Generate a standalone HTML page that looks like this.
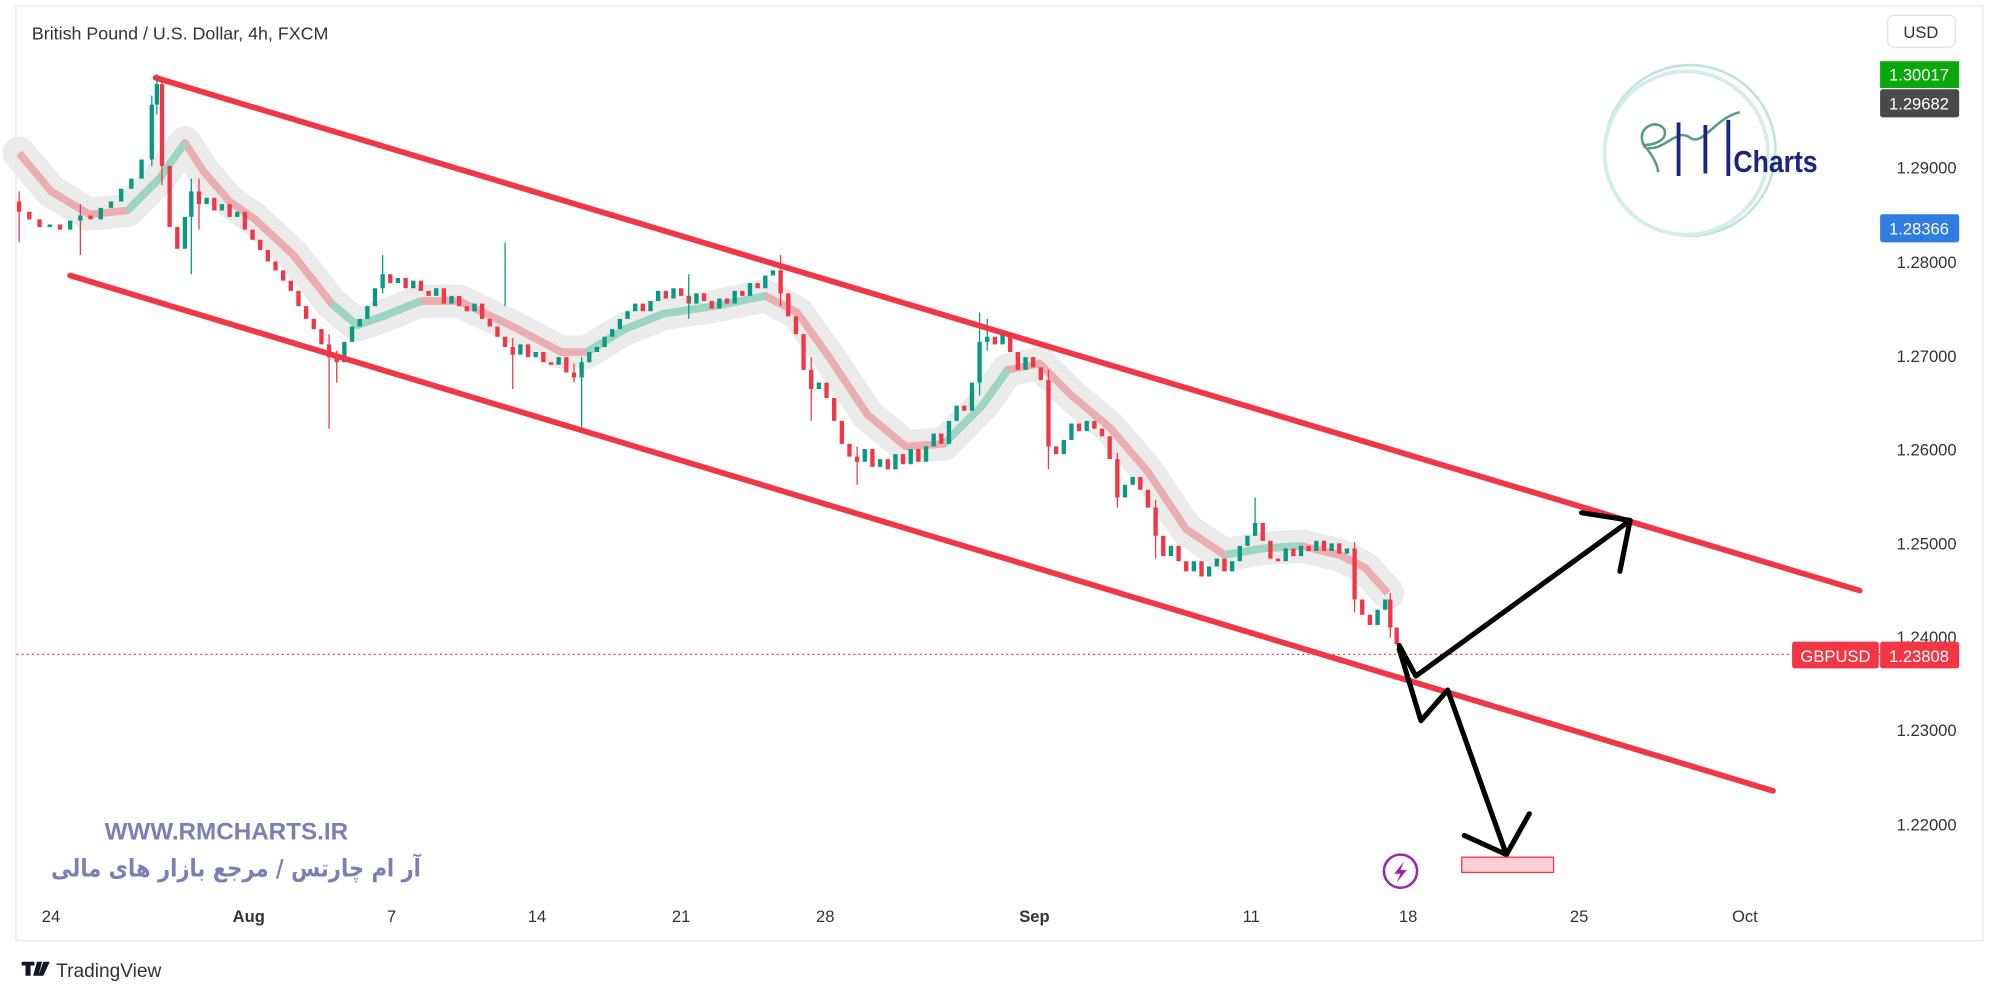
<!DOCTYPE html>
<html><head><meta charset="utf-8">
<style>
html,body{margin:0;padding:0;background:#fff;}
svg{display:block;}
text{font-family:"Liberation Sans","DejaVu Sans",sans-serif;}
</style></head>
<body>
<svg width="2000" height="1000" viewBox="0 0 1568 784" xmlns="http://www.w3.org/2000/svg">
<rect x="0" y="0" width="1568" height="784" fill="#fff"/>
<rect x="12.5" y="4.5" width="1542" height="733" fill="#fff" stroke="#eceef2" stroke-width="1.5"/>
<polyline fill="none" stroke="#ebebec" stroke-width="26" stroke-linejoin="round" stroke-linecap="round" points="15,120 40,150 70,168 100,165 125,140 145,112 160,135 180,158 200,172 230,200 260,238 280,255 300,248 330,236 360,236 400,255 440,276 460,276 490,258 520,246 560,240 600,232 625,245 650,280 680,325 710,350 740,348 770,318 790,290 815,285 840,310 870,335 900,370 930,415 960,435 990,430 1020,428 1050,435 1070,445 1088,465"/>
<polyline fill="none" stroke="#eaaeb0" stroke-width="6" stroke-linejoin="round" points="15,120 40,150 70,168 100,165 125,140 145,112 160,135 180,158 200,172 230,200 260,238 280,255 300,248 330,236 360,236 400,255 440,276 460,276 490,258 520,246 560,240 600,232 625,245 650,280 680,325 710,350 740,348 770,318 790,290 815,285 840,310 870,335 900,370 930,415 960,435 990,430 1020,428 1050,435 1070,445 1088,465"/>
<g fill="none" stroke="#9dd5c5" stroke-width="6" stroke-linejoin="round">
<polyline points="100,165 125,140 145,112"/>
<polyline points="260,238 280,255 300,248 330,236"/>
<polyline points="460,276 490,258 520,246 560,240 600,232"/>
<polyline points="740,348 770,318 790,290"/>
<polyline points="960,435 990,430 1020,428"/>
</g>
<path stroke="#f23645" stroke-width="3.4" fill="none" d="M15 158V166M23 166V172M31 172V178M47 176V180M71 169V172M127 66V130M133 130V178M139 178V195M156 150V160M168 155V165M180 160V170M192 166V180M198 180V188M204 188V196M210 196V205M216 205V212M222 212V220M228 220V228M234 228V240M240 240V250M246 250V258M252 258V270M258 270V280M264 280V284M306 215V222M318 218V226M330 220V228M336 228V232M348 226V238M360 232V240M366 240V244M378 238V250M384 250V256M390 256V264M396 264V272M402 272V278M414 270V280M426 276V284M432 284V286M444 280V292M450 292V296M504 238V244M522 228V234M534 226V232M540 232V238M552 230V236M558 236V242M570 234V238M582 228V232M594 222V226M612 212V230M618 230V248M624 248V262M630 262V290M636 290V305M648 300V312M654 312V330M660 330V348M666 348V358M672 358V362M684 352V366M696 360V368M708 356V364M720 352V362M738 340V348M756 318V322M780 264V270M792 262V276M798 276V290M810 280V288M816 288V298M822 298V350M828 350V356M846 332V338M858 330V336M864 336V342M870 342V360M876 360V390M894 374V384M900 384V398M906 398V420M912 420V436M924 428V440M930 440V448M942 440V452M960 438V448M990 410V424M996 424V438M1002 438V440M1014 430V436M1026 428V432M1038 424V432M1050 426V434M1062 430V470M1068 470V482M1074 482V490M1090 470V492M1095 492V505"/>
<path stroke="#f23645" stroke-width="1" fill="none" d="M15 150V190M63 160V200M127 60V145M156 140V180M258 262V336M264 275V300M402 265V305M450 285V300M612 200V240M636 280V330M672 350V380M822 290V368M876 355V398M906 392V438M1062 425V480M1090 465V500"/>
<path stroke="#089981" stroke-width="3.4" fill="none" d="M39 178V176M55 180V173M63 173V169M79 172V163M87 163V158M95 158V148M103 148V140M111 140V125M119 125V82M123 82V66M145 195V170M150 170V150M162 160V155M174 165V160M186 170V166M270 284V268M276 268V256M282 256V250M288 250V240M294 240V226M300 226V215M312 222V218M324 226V220M342 232V226M354 238V232M372 244V238M408 278V270M420 280V276M438 286V280M456 296V284M462 284V276M468 276V272M474 272V264M480 264V258M486 258V250M492 250V244M498 244V238M510 244V236M516 236V228M528 234V226M546 238V230M564 242V234M576 238V228M588 232V222M600 226V216M606 216V212M642 305V300M678 362V352M690 366V360M702 368V356M714 364V352M726 362V350M732 350V340M744 348V330M750 330V318M762 322V300M768 300V268M774 268V264M786 270V262M804 290V280M834 356V345M840 345V332M852 338V330M882 390V380M888 380V374M918 436V428M936 448V440M948 452V444M954 444V438M966 448V440M972 440V428M978 428V420M984 420V410M1008 440V430M1020 436V428M1032 432V424M1044 432V426M1056 434V430M1080 490V478M1086 478V470"/>
<path stroke="#089981" stroke-width="1" fill="none" d="M119 75V130M123 58V90M150 140V215M300 200V230M396 190V240M456 280V335M768 245V310M774 250V275M540 215V250M984 390V420"/>
<text x="25" y="31" font-size="14" fill="#333">British Pound / U.S. Dollar, 4h, FXCM</text>
<line x1="13" y1="513" x2="1474" y2="513" stroke="#f23645" stroke-width="1" stroke-dasharray="1.5,2.5"/>
<line x1="122" y1="61" x2="1458" y2="463" stroke="#f23645" stroke-width="4.5" stroke-linecap="round"/>
<line x1="55" y1="216" x2="1390" y2="620" stroke="#f23645" stroke-width="4.5" stroke-linecap="round"/>
<g stroke="#000" stroke-width="4" fill="none" stroke-linecap="round" stroke-linejoin="round">
<polyline points="1097,506 1110,530 1278,408"/>
<polyline points="1240,402 1278,408 1270,448"/>
<polyline points="1097,509 1114,565 1135,541 1181,670"/>
<polyline points="1148,655 1181,670 1199,638"/>
</g>
<rect x="1146" y="672" width="72" height="12" fill="#f9cfd3" stroke="#f23645" stroke-width="1"/>
<circle cx="1098" cy="683" r="13" fill="#fff" stroke="#9c27b0" stroke-width="2"/>
<path d="M1101,675 L1093,685 L1098,685 L1095,692 L1103,682 L1098,682 Z" fill="#9c27b0"/>
<g>
<circle cx="1325" cy="118" r="67" fill="none" stroke="#bfe3e0" stroke-width="2"/>
<circle cx="1322" cy="120" r="64" fill="none" stroke="#d5eeeb" stroke-width="3"/>
<path d="M1290,116 C1280,100 1300,92 1305,102 C1308,112 1290,115 1288,113 C1295,120 1300,130 1300,135" fill="none" stroke="#5b9a86" stroke-width="2"/>
<path d="M1292,116 C1305,118 1315,100 1325,108 C1335,115 1345,92 1364,88" fill="none" stroke="#5b9a86" stroke-width="2"/>
<g stroke="#1a237e" stroke-width="3"><line x1="1316" y1="96" x2="1316" y2="138"/><line x1="1337" y1="98" x2="1337" y2="136"/><line x1="1355" y1="94" x2="1355" y2="138"/></g>
<text x="1359" y="135" font-size="24" font-weight="bold" fill="#1a237e" textLength="66" lengthAdjust="spacingAndGlyphs">Charts</text>
</g>
<text x="82" y="658" font-size="19" font-weight="bold" fill="#7b7fb5">WWW.RMCHARTS.IR</text>
<text x="40" y="687" font-size="19" font-weight="bold" fill="#7b7fb5" textLength="290" lengthAdjust="spacingAndGlyphs" style="font-family:'DejaVu Sans',sans-serif">آر ام چارتس / مرجع بازار های مالی</text>
<rect x="1480" y="12" width="53" height="25" rx="5" fill="#fff" stroke="#e0e3eb"/>
<text x="1506" y="30" font-size="13" fill="#333" text-anchor="middle">USD</text>
<g font-size="13" fill="#333">
<text x="1487" y="136">1.29000</text>
<text x="1487" y="210">1.28000</text>
<text x="1487" y="284">1.27000</text>
<text x="1487" y="357">1.26000</text>
<text x="1487" y="431">1.25000</text>
<text x="1487" y="504">1.24000</text>
<text x="1487" y="577">1.23000</text>
<text x="1487" y="651">1.22000</text>
</g>
<rect x="1474" y="48" width="62" height="21" fill="#0ba80b"/><text x="1481" y="63" font-size="13" fill="#fff">1.30017</text>
<rect x="1474" y="70" width="62" height="22" rx="2" fill="#4a4a4a"/><text x="1481" y="86" font-size="13" fill="#fff">1.29682</text>
<rect x="1474" y="168" width="62" height="22" rx="2" fill="#2f7de1"/><text x="1481" y="184" font-size="13" fill="#fff">1.28366</text>
<rect x="1405" y="503" width="68" height="21" rx="2" fill="#f23645"/><text x="1439" y="519" font-size="13" fill="#fff" text-anchor="middle">GBPUSD</text>
<rect x="1474" y="503" width="62" height="21" rx="2" fill="#f23645"/><text x="1481" y="519" font-size="13" fill="#fff">1.23808</text>
<g font-size="13" fill="#333" text-anchor="middle">
<text x="40" y="723">24</text>
<text x="195" y="723" font-weight="bold">Aug</text>
<text x="307" y="723">7</text>
<text x="421" y="723">14</text>
<text x="534" y="723">21</text>
<text x="647" y="723">28</text>
<text x="811" y="723" font-weight="bold">Sep</text>
<text x="981" y="723">11</text>
<text x="1104" y="723">18</text>
<text x="1238" y="723">25</text>
<text x="1368" y="723">Oct</text>
</g>
<g fill="#131722">
<path d="M17,754 h10 v3 h-3 v8 h-4 v-8 h-3z M29,754 h4 l-3,11 h-4z M34,754 h5 l-5,11 h-4z"/>
</g>
<text x="44" y="766" font-size="15" fill="#333">TradingView</text>
</svg>
</body></html>
